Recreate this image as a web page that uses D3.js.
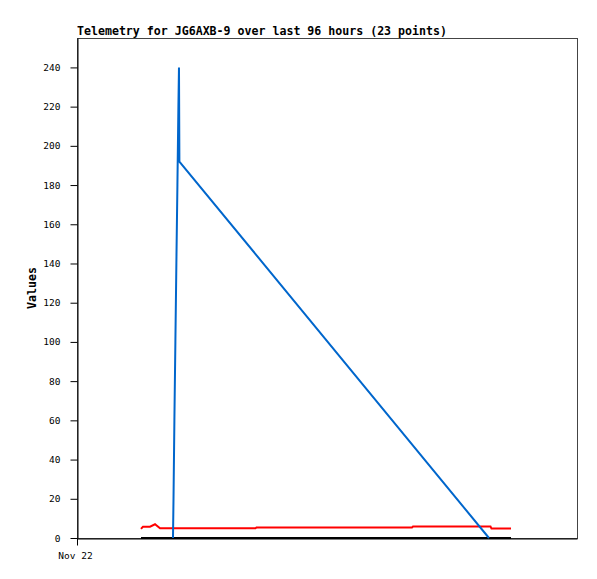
<!DOCTYPE html>
<html>
<head>
<meta charset="utf-8">
<script src="https://cdn.jsdelivr.net/npm/d3@7"></script>
<style>
  html, body { margin: 0; padding: 0; background: #fff; }
  svg { display: block; }
</style>
</head>
<body>
<svg id="chart" width="597" height="579"></svg>
<script>
// ---- data (hours since start of Nov 22) ----
const hours = [12.29, 12.67, 14.02, 14.98, 15.94, 18.43, 18.53, 18.70, 18.89, 19.08, 19.28, 19.47,
               19.58, 19.66, 34.27, 34.46, 64.32, 64.51, 79.10, 79.39, 79.58, 81.22, 83.33];
const blueValues = [null, null, null, null, null, 0, 20, 60, 100, 140, 180, 220,
                    240, 192, null, null, null, null, 0, null, null, null, null];
const redValues = [4.6, 5.8, 5.8, 7.0, 5.0, 5.0, 5.0, 5.0, 5.0, 5.0, 5.0, 5.0,
                   5.0, 5.0, 5.0, 5.4, 5.4, 5.9, 5.9, 5.9, 4.8, 4.8, 4.8];
const blackValues = [0, 0, 0, 0, 0, 0, 0, 0, 0, 0, 0, 0, 0, 0, 0, 0, 0, 0, 0, 0, 0, 0, 0];
const yTicks = [0, 20, 40, 60, 80, 100, 120, 140, 160, 180, 200, 220, 240];
const xTicks = [0];
const xTickLabels = ["Nov 22"];
const title = "Telemetry for JG6AXB-9 over last 96 hours (23 points)";
const yLabel = "Values";

// ---- layout ----
const L = 77, R = 577, T = 38, B = 538;
const svg = d3.select("#chart");
const x = d3.scaleLinear().domain([0, 96]).range([L, R]);
const y = d3.scaleLinear().domain([0, 255]).range([B, T]);

// frame
svg.append("rect").attr("x", L + 0.5).attr("y", T + 0.5)
  .attr("width", R - L).attr("height", B - T)
  .attr("fill", "none").attr("stroke", "#444").attr("stroke-width", 1);

// y axis
const yAxis = svg.append("g").attr("transform", `translate(${L + 0.5},0)`)
  .call(d3.axisLeft(y).tickValues(yTicks).tickSizeInner(7).tickSizeOuter(0).tickPadding(10));
yAxis.select(".domain").attr("stroke", "#000");
yAxis.selectAll(".tick line").attr("stroke", "#000");
yAxis.selectAll("text").attr("font-family", "DejaVu Sans Mono").attr("font-size", "9.5px").attr("fill", "#000");

// x axis
const xAxis = svg.append("g").attr("transform", `translate(0,${B + 0.5})`)
  .call(d3.axisBottom(x).tickValues(xTicks).tickFormat((d, i) => xTickLabels[i])
    .tickSizeInner(7).tickSizeOuter(0).tickPadding(7));
xAxis.select(".domain").attr("stroke", "#000");
xAxis.selectAll(".tick line").attr("stroke", "#000");
xAxis.selectAll("text").attr("font-family", "DejaVu Sans Mono").attr("font-size", "9.5px")
  .attr("fill", "#000").attr("dx", "-2");

// series
const line = d3.line().x(d => x(d[0])).y(d => y(d[1]));
function series(values, color) {
  const pts = hours.map((h, i) => [h, values[i]]).filter(d => d[1] !== null);
  svg.append("path").datum(pts).attr("d", line)
    .attr("fill", "none").attr("stroke", color).attr("stroke-width", 2)
    .attr("stroke-linejoin", "miter");
}
series(blackValues, "#000000");
series(redValues, "#ff0000");
series(blueValues, "#0066cc");

// title
svg.append("text").attr("x", L).attr("y", 35)
  .attr("font-family", "DejaVu Sans Mono").attr("font-weight", "bold").attr("font-size", "11.6px")
  .attr("fill", "#000").text(title);

// y label
svg.append("text").attr("transform", `translate(36,${(T + B) / 2}) rotate(-90)`)
  .attr("text-anchor", "middle")
  .attr("font-family", "DejaVu Sans Mono").attr("font-weight", "bold").attr("font-size", "11.6px")
  .attr("fill", "#000").text(yLabel);
</script>
</body>
</html>
